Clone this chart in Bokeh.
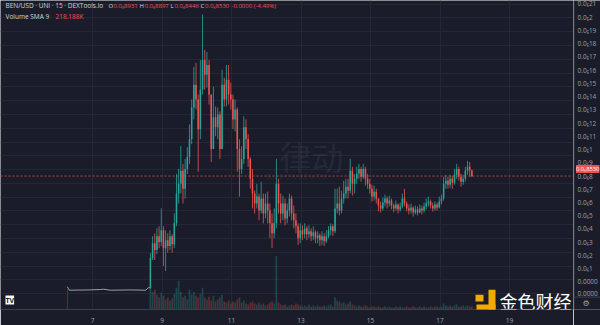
from bokeh.plotting import figure
from bokeh.layouts import row
from bokeh.models import (FixedTicker, Span, Label, BoxAnnotation, Range1d,
                          ColumnDataSource)
from bokeh.core.properties import value
from bokeh.embed import file_html
from bokeh.resources import INLINE

# ---------------- data (prices in units of 1e-7 USD) ----------------
start_day = 8 + 16 / 24        # first traded candle: day 8, 16:00
step_day = 1.5 / 24            # one drawn candle = 1.5 h
first_open = 0.43

close = [
    2.59, 3.66, 3.16, 4.17, 3.74, 4.60, 3.30, 3.88, 3.45, 4.17,
    3.59, 5.10, 7.26, 7.97, 8.91, 7.61, 9.05, 9.91, 11.21, 13.51,
    15.16, 14.08, 11.93, 14.80, 16.95, 15.88, 16.59, 14.44, 10.49, 12.79,
    12.07, 13.00, 10.49, 15.16, 14.08, 15.52, 14.44, 14.08, 12.64, 13.36,
    10.49, 9.05, 9.77, 12.07, 11.21, 9.77, 8.33, 7.26, 6.54, 7.04,
    6.03, 6.90, 5.82, 6.54, 6.03, 5.10, 4.38, 5.10, 7.97, 6.54,
    5.82, 6.54, 5.46, 6.03, 6.90, 5.82, 5.32, 4.89, 4.02, 4.60,
    4.31, 4.74, 4.31, 4.53, 4.17, 4.45, 4.02, 4.24, 3.88, 4.17,
    3.81, 4.17, 4.60, 4.89, 4.53, 6.18, 6.54, 6.03, 6.90, 7.26,
    7.76, 7.47, 8.91, 7.97, 8.33, 8.69, 9.05, 8.48, 9.05, 8.33,
    7.97, 7.61, 7.04, 7.40, 6.90, 6.39, 6.18, 6.61, 6.90, 6.54,
    6.75, 6.39, 6.18, 6.47, 6.11, 6.32, 6.90, 6.54, 6.18, 6.03,
    6.25, 5.89, 6.11, 5.89, 6.18, 6.03, 6.32, 6.54, 6.68, 6.39,
    6.18, 6.47, 6.25, 6.68, 6.90, 7.97, 8.19, 7.90, 8.33, 8.05,
    8.62, 9.05, 8.48, 8.12, 8.33, 8.91, 9.20, 8.93, 8.53,
]
high = [
    2.95, 4.17, 4.38, 4.74, 4.89, 6.18, 4.89, 4.60, 4.38, 4.60,
    4.31, 5.82, 8.69, 9.05, 10.70, 9.41, 9.77, 10.63, 12.28, 14.08,
    16.45, 16.74, 14.44, 16.95, 20.26, 17.67, 17.53, 16.95, 14.44, 15.01,
    13.58, 13.51, 13.22, 16.24, 15.66, 16.59, 16.59, 15.30, 14.44, 14.08,
    13.51, 11.21, 10.70, 12.86, 12.64, 11.57, 9.91, 9.05, 7.47, 7.97,
    7.26, 8.12, 7.26, 7.26, 7.40, 6.54, 5.82, 6.18, 9.77, 8.33,
    7.26, 7.11, 6.90, 6.54, 7.26, 7.11, 6.39, 5.82, 5.10, 5.10,
    4.96, 5.10, 4.89, 4.96, 4.74, 4.89, 4.60, 4.53, 4.38, 4.53,
    4.38, 4.60, 4.89, 5.10, 5.03, 7.61, 7.61, 7.76, 7.47, 8.19,
    8.33, 8.33, 9.77, 9.20, 8.69, 9.20, 9.41, 9.20, 9.41, 9.20,
    8.69, 8.33, 7.90, 7.83, 7.61, 6.90, 6.68, 6.97, 7.18, 7.04,
    7.11, 6.90, 6.54, 6.75, 6.54, 6.61, 7.26, 7.61, 6.68, 6.47,
    6.54, 6.32, 6.39, 6.32, 6.47, 6.39, 6.61, 6.90, 7.04, 6.82,
    6.61, 6.68, 6.61, 7.04, 7.18, 8.48, 8.62, 8.48, 8.62, 8.55,
    9.05, 9.41, 9.20, 8.69, 8.62, 9.20, 9.63, 9.55, 9.00,
]
low = [
    0.36, 2.44, 2.44, 2.87, 3.30, 3.45, 2.01, 1.65, 2.95, 3.16,
    2.95, 3.30, 4.89, 6.54, 7.26, 6.54, 6.90, 8.69, 9.41, 10.85,
    12.64, 13.36, 8.84, 11.21, 14.44, 14.80, 14.94, 13.72, 9.55, 10.49,
    11.42, 11.21, 9.77, 10.49, 13.58, 13.58, 13.72, 13.36, 11.93, 11.78,
    8.84, 7.04, 8.69, 9.41, 10.49, 9.20, 7.61, 6.18, 5.82, 6.18,
    5.32, 5.82, 5.10, 5.46, 5.10, 4.02, 3.30, 4.02, 4.74, 5.82,
    5.10, 5.32, 4.96, 5.10, 5.60, 5.32, 4.74, 4.38, 3.52, 3.66,
    3.88, 4.02, 3.88, 4.02, 3.81, 3.88, 3.66, 3.66, 3.45, 3.52,
    3.45, 3.66, 4.02, 4.24, 4.17, 4.38, 5.82, 5.68, 5.82, 6.54,
    6.90, 6.90, 7.26, 7.11, 7.26, 7.97, 8.33, 8.12, 8.33, 7.83,
    7.61, 7.26, 6.68, 6.75, 6.54, 5.96, 5.89, 6.03, 6.32, 6.18,
    6.32, 6.11, 5.89, 6.03, 5.82, 5.96, 6.18, 6.32, 5.96, 5.75,
    5.82, 5.60, 5.75, 5.68, 5.82, 5.75, 5.89, 6.11, 6.32, 6.18,
    5.96, 6.03, 6.03, 6.18, 6.47, 6.75, 7.61, 7.61, 7.69, 7.61,
    7.90, 8.33, 8.19, 7.76, 7.90, 8.12, 8.62, 8.48, 8.45,
]
volume_k = [
    1825, 1314, 1460, 1095, 876, 1241, 1022, 730, 876, 657,
    803, 1168, 1606, 2117, 1314, 876, 1022, 730, 1460, 1095,
    1314, 1022, 876, 1168, 1606, 876, 730, 949, 657, 1022,
    584, 730, 876, 1095, 584, 511, 657, 438, 584, 511,
    730, 876, 511, 657, 438, 365, 511, 584, 438, 365,
    511, 365, 438, 292, 365, 511, 584, 438, 3942, 511,
    365, 292, 365, 219, 292, 365, 292, 438, 365, 292,
    219, 292, 219, 365, 219, 292, 219, 292, 219, 219,
    292, 219, 292, 365, 219, 876, 657, 584, 438, 511,
    365, 438, 584, 365, 292, 219, 292, 219, 219, 292,
    219, 146, 219, 219, 146, 219, 146, 146, 219, 146,
    219, 146, 146, 219, 146, 219, 146, 146, 219, 146,
    146, 219, 146, 146, 219, 146, 219, 146, 146, 219,
    146, 219, 219, 146, 219, 438, 292, 219, 292, 219,
    292, 365, 219, 219, 292, 219, 292, 219, 219,
]
# pre-launch flat trading
pre_day = [6.28, 6.33, 6.90, 7.23, 7.32, 7.52, 8.10, 8.53, 8.61, 8.667]
pre_price = [0.50, 0.25, 0.27, 0.30, 0.32, 0.25, 0.27, 0.25, 0.43, 0.43]
pre_vol_day = [6.28]
pre_vol_k = [1460]

price_ticks = list(range(0, 22))
price_tick_labels = ["0.0000", "0.0₆1", "0.0₆2", "0.0₆3", "0.0₆4", "0.0₆5",
                     "0.0₆6", "0.0₆7", "0.0₆8", "0.0₆9", "0.0₅1", "0.0₅11",
                     "0.0₅12", "0.0₅13", "0.0₅14", "0.0₅15", "0.0₅16",
                     "0.0₅17", "0.0₅18", "0.0₅19", "0.0₅2", "0.0₅21"]
day_ticks = [7, 9, 11, 13, 15, 17, 19]
day_tick_labels = ["7", "9", "11", "13", "15", "17", "19"]
last_price = 8.53
last_price_label = "0.0₆8530"

# ---------------- style ----------------
BG = "#1a1d29"
GRID = "#242836"
AXIS = "#3c404b"
TXT = "#9da0aa"
HEAD = "#d1d4dc"
UP = "#26a69a"
DOWN = "#ef5350"
GOLD = "#f2a900"
FONT = "Open Sans"


def sx(px):  # canvas pixel -> day (annotation placement only)
    return 7 + (px - 92) / 34.75


def sy(py):  # canvas pixel -> price unit (annotation placement only)
    return (296 - py) / 13.92


n = len(close)
t = [start_day + i * step_day for i in range(n)]
opens = [first_open] + close[:-1]
colors = [UP if c >= o else DOWN for o, c in zip(opens, close)]
top = [max(o, c) for o, c in zip(opens, close)]
bot = [min(o, c) for o, c in zip(opens, close)]
src = ColumnDataSource(dict(t=t, open=opens, close=close, high=high, low=low,
                            top=top, bot=bot, color=colors, vol=volume_k))

# ---------------- main chart ----------------
p = figure(width=573, height=325, x_range=Range1d(sx(0), sx(573)),
           y_range=Range1d(sy(312), sy(0)), output_backend="svg",
           toolbar_location=None, y_axis_location=None,
           background_fill_color=BG, border_fill_color=BG,
           outline_line_color=None, min_border_left=0, min_border_top=0,
           min_border_right=0, min_border_bottom=13)
p.extra_y_ranges = {"vol": Range1d(0, 22776)}

ax = p.xaxis[0]
ax.ticker = FixedTicker(ticks=day_ticks)
ax.major_label_overrides = {k: v for k, v in zip(day_ticks, day_tick_labels)}
ax.major_label_text_font_size = "6.5px"
ax.major_label_text_color = TXT
ax.major_label_text_font = FONT
ax.major_tick_line_color = None
ax.minor_tick_line_color = None
ax.axis_line_color = AXIS
ax.major_label_standoff = 2

p.xgrid.ticker = FixedTicker(ticks=day_ticks)
p.ygrid.ticker = FixedTicker(ticks=price_ticks)
p.xgrid.grid_line_color = GRID
p.ygrid.grid_line_color = GRID

# volume
p.vbar(x="t", width=step_day * 0.8, top="vol", bottom=0, fill_color="color",
       fill_alpha=0.3, line_color=None, y_range_name="vol", source=src)
p.vbar(x=pre_vol_day, width=step_day * 0.5, top=pre_vol_k, bottom=0,
       fill_color=DOWN, fill_alpha=0.3, line_color=None, y_range_name="vol")

# pre-launch line
p.line(pre_day, pre_price, line_color="#b8bbc4", line_width=1, line_alpha=0.8)

# candles
p.segment(x0="t", y0="high", x1="t", y1="low", line_color="color",
          line_width=0.8, source=src)
p.vbar(x="t", width=step_day * 0.7, top="top", bottom="bot",
       fill_color="color", line_color=None, source=src)

# last price line
p.add_layout(Span(location=last_price, dimension="width", line_color=DOWN,
                  line_dash="2 2", line_width=1, line_alpha=0.7))

# watermark
p.add_layout(Label(x=sx(279), y=sy(157), text="律动", text_font="Noto Sans CJK SC",
                   text_font_size="32px", text_color="#8fa3c4", text_alpha=0.10,
                   text_baseline="middle"))
p.add_layout(Label(x=sx(266), y=sy(178), text="B L O C K B E A T S",
                   text_font=FONT, text_font_size="7px", text_color="#8fa3c4",
                   text_alpha=0.12, text_baseline="middle"))


def head(px, py, text, color, size="6px"):
    p.add_layout(Label(x=sx(px), y=sy(py), text=text, text_font=FONT,
                       text_font_size=size, text_color=color,
                       text_baseline="middle"))


head(5, 5.5, "BEN/USD · UNI · 15 · DEXTools.io", HEAD, "6.5px")
head(108, 5.5, "O", HEAD)
head(113, 5.5, "0.0₆8931", DOWN)
head(139, 5.5, "H", HEAD)
head(144, 5.5, "0.0₆8897", DOWN)
head(170, 5.5, "L", HEAD)
head(174, 5.5, "0.0₆8446", DOWN)
head(200, 5.5, "C", HEAD)
head(204.5, 5.5, "0.0₆8530", DOWN)
head(231, 5.5, "-0.0000 (-4.49%)", DOWN)
head(5, 16, "Volume SMA 9", HEAD, "6.5px")
head(55, 16, "218.188K", DOWN, "6.5px")

# TV logo
p.add_layout(Label(x=sx(5), y=sy(302.5), text="TV", text_font=FONT,
                   text_font_style="bold", text_font_size="7px",
                   text_color=BG, background_fill_color="white",
                   text_baseline="middle"))

# 金色财经 logo (kept inside the chart area)
p.add_layout(BoxAnnotation(left=sx(475), right=sx(483), top=sy(297),
                           bottom=sy(304), fill_color=GOLD, fill_alpha=1,
                           line_color=None))
p.add_layout(BoxAnnotation(left=sx(488), right=sx(495), top=sy(292),
                           bottom=sy(313), fill_color=GOLD, fill_alpha=1,
                           line_color=None))
p.add_layout(BoxAnnotation(left=sx(476), right=sx(495), top=sy(307),
                           bottom=sy(313), fill_color=GOLD, fill_alpha=1,
                           line_color=None))
p.add_layout(Label(x=sx(499), y=sy(303), text="金色财经",
                   text_font="Noto Sans CJK SC", text_font_size="18px",
                   text_color="white", text_baseline="middle"))

# ---------------- right price scale ----------------
q = figure(width=27, height=325, x_range=Range1d(sx(573), sx(600)),
           y_range=Range1d(sy(325), sy(0)), output_backend="svg",
           toolbar_location=None, x_axis_location=None, y_axis_location=None,
           background_fill_color=BG, border_fill_color=BG,
           outline_line_color=None, min_border=0)
q.xgrid.visible = False
q.ygrid.visible = False
q.add_layout(Span(location=sx(573.5), dimension="height", line_color=AXIS,
                  line_width=1))
q.add_layout(Span(location=sy(312), dimension="width", line_color=AXIS,
                  line_width=1))
q.text(x=[sx(577)] * len(price_ticks), y=price_ticks, text=price_tick_labels,
       text_font=value(FONT), text_font_size=value("6.5px"), text_color=TXT,
       text_baseline="middle")
q.text(x=[sx(577)], y=[sy(308)], text=["0.0000"], text_font=value(FONT),
       text_font_size=value("6.5px"), text_color=TXT, text_baseline="middle")
q.add_layout(Label(x=sx(575.5), y=last_price, text=last_price_label,
                   text_font=FONT, text_font_size="5.8px", text_color="white",
                   background_fill_color=DOWN, text_baseline="middle"))
q.add_layout(Label(x=sx(582), y=sy(318.5), text="⚙", text_font="DejaVu Sans",
                   text_font_size="8px", text_color=TXT, text_baseline="middle"))

layout = row(p, q, spacing=0)
open("out.html", "w").write(file_html(layout, INLINE))
